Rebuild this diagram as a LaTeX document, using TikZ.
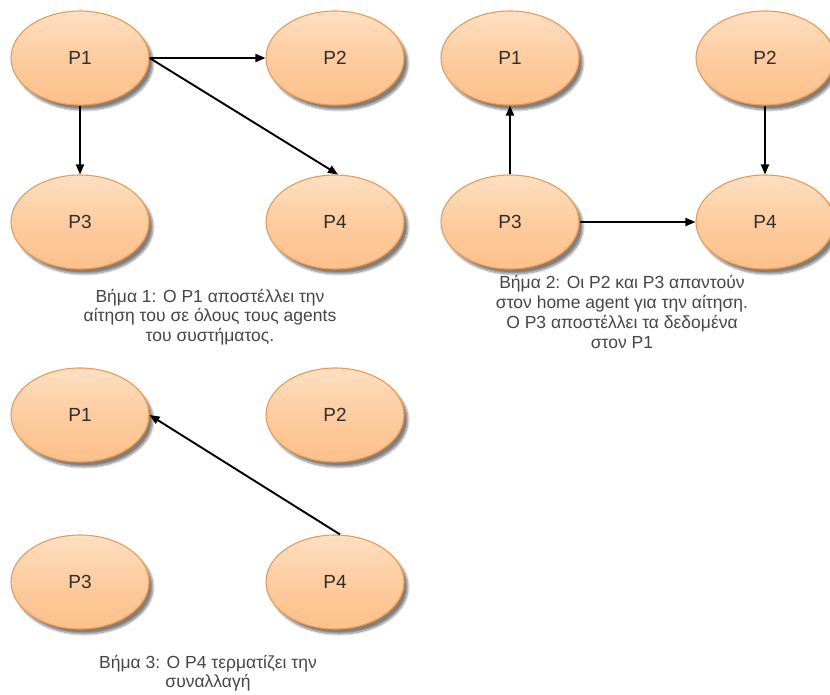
\documentclass[tikz,border=0pt]{standalone}
\usepackage{fontspec}
\setmainfont{Liberation Sans}
\usetikzlibrary{shapes.geometric,arrows.meta,shadows.blur}

\definecolor{proctop}{HTML}{FEE0C2}
\definecolor{procmid}{HTML}{FDCC9F}
\definecolor{procbot}{HTML}{FCC08A}
\definecolor{procborder}{HTML}{EE9A4E}
\definecolor{labeltext}{HTML}{2E2E2E}
\definecolor{captext}{HTML}{454545}

\tikzset{
  proc/.style={ellipse, minimum width=138, minimum height=94, inner sep=0,
    draw=procborder, line width=1.1,
    top color=proctop, bottom color=procbot, middle color=procmid,
    font=\fontsize{19}{22}\selectfont, text=labeltext,
    blur shadow={shadow xshift=4pt, shadow yshift=-5pt,
      shadow blur steps=8, shadow opacity=50}},
  msg/.style={line width=1.9, black, -{Triangle[length=10pt,width=8pt]}},
  caption/.style={align=center, text=captext,
    font=\fontsize{17.5}{19.5}\selectfont}
}

\begin{document}
\begin{tikzpicture}[x=1pt,y=-1pt]
\useasboundingbox (0,0) rectangle (830,695);

% Step 1: P1 broadcasts its request
\node[proc] (a1) at (80,58)  {P1};
\node[proc] (a2) at (335,58) {P2};
\node[proc] (a3) at (80,222) {P3};
\node[proc] (a4) at (335,222) {P4};
\draw[msg] (a1.east) -- (a2.west);
\draw[msg] (a1.east) -- ([xshift=3]a4.north);
\draw[msg] (a1.south) -- (a3.north);
\node[caption] (c1) at (210,317)
  {Βήμα 1: Ο P1 αποστέλλει την\\αίτηση του σε όλους τους agents\\του συστήματος.};

% Step 2: replies to the home agent
\node[proc] (b1) at (510,58)  {P1};
\node[proc] (b2) at (765,58)  {P2};
\node[proc] (b3) at (510,222) {P3};
\node[proc] (b4) at (765,222) {P4};
\draw[msg] (b3.north) -- (b1.south);
\draw[msg] (b2.south) -- (b4.north);
\draw[msg] (b3.east) -- (b4.west);
\node[caption, font=\fontsize{17.5}{20}\selectfont] (c2) at (622,312)
  {Βήμα 2: Οι P2 και P3 απαντούν\\στον home agent για την αίτηση.\\Ο P3 αποστέλλει τα δεδομένα\\στον P1};

% Step 3: P4 closes the transaction
\node[proc] (d1) at (80,415)  {P1};
\node[proc] (d2) at (335,415) {P2};
\node[proc] (d3) at (80,582)  {P3};
\node[proc] (d4) at (335,582) {P4};
\draw[msg] ([xshift=5]d4.north) -- (d1.east);
\node[caption] (c3) at (208,673)
  {Βήμα 3: Ο P4 τερματίζει την\\συναλλαγή};
\end{tikzpicture}
\end{document}
